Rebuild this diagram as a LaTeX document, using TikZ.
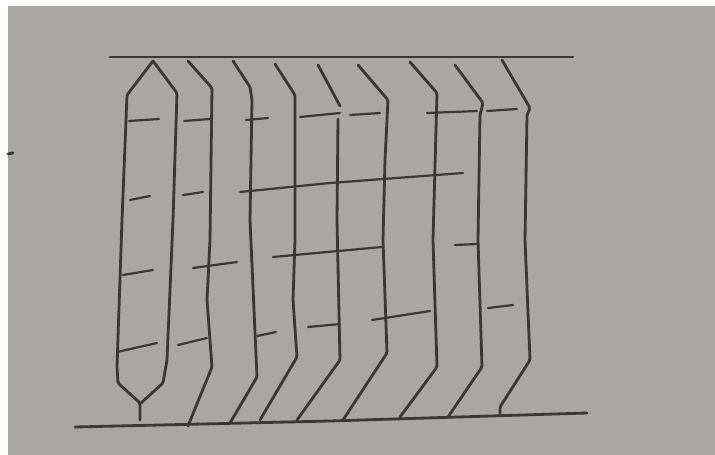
\documentclass[tikz,border=0pt]{standalone}
\begin{document}
\begin{tikzpicture}[x=1pt,y=-1pt,
  pencil/.style={draw=pencilc,line width=2.8pt,line cap=round,line join=round,rounded corners=1.5pt},
  tick/.style={draw=pencilc,line width=2.2pt,line cap=round}]
\definecolor{paper}{HTML}{A9A7A3}
\definecolor{pencilc}{HTML}{3A3836}
\useasboundingbox (0,0) rectangle (715,455);
\fill[white] (0,0) rectangle (715,455);
\fill[paper] (8,6) rectangle (715,455);
% stray mark at left
\draw[pencilc,line width=2.8pt,line cap=round] (8,154) -- (13,153);
% top and bottom rails
\draw[pencil] (110,57) -- (573,57);
\draw[pencil] (75,427) -- (330,421) -- (587,413);
% strand 1: pointed both ends
\draw[pencil] (153,61) -- (127,95) -- (122,220) -- (117,367) -- (118,383) -- (140,403) -- (140,420);
\draw[pencil] (153,61) -- (177,93) -- (173,220) -- (167,360) -- (163,383) -- (141,403);
% strand 2
\draw[pencil] (188,61) -- (212,88) -- (210,240) -- (207,300) -- (212,367) -- (188,426);
% strand 3
\draw[pencil] (233,61) -- (250,87) -- (252,100) -- (250,220) -- (257,377) -- (230,423);
% strand 4
\draw[pencil] (275,64) -- (295,95) -- (295,240) -- (293,300) -- (297,357) -- (260,420);
% strand 5 (with a gap near the top)
\draw[pencil] (318,65) -- (340,106);
\draw[pencil] (338,119) -- (337,220) -- (340,360) -- (297,420);
% strand 6
\draw[pencil] (358,65) -- (388,100) -- (385,160) -- (383,240) -- (387,353) -- (343,420);
% strand 7
\draw[pencil] (410,62) -- (437,93) -- (433,240) -- (437,367) -- (400,417);
% strand 8
\draw[pencil] (455,65) -- (483,103) -- (480,115) -- (478,240) -- (482,367) -- (448,417);
% strand 9
\draw[pencil] (502,60) -- (530,108) -- (527,115) -- (525,240) -- (530,360) -- (500,407) -- (500,415);
% row 1 ticks
\draw[tick] (129,121) -- (159,119);
\draw[tick] (184,121) -- (210,119);
\draw[tick] (246,120) -- (268,118);
\draw[tick] (300,117) -- (340,113);
\draw[tick] (350,115) -- (380,113);
\draw[tick] (427,113) -- (477,111);
\draw[tick] (487,111) -- (517,109);
% row 2
\draw[tick] (130,200) -- (150,196);
\draw[tick] (183,195) -- (203,192);
\draw[tick] (240,192) -- (330,183) -- (463,173);
% row 3
\draw[tick] (123,275) -- (153,270);
\draw[tick] (193,268) -- (237,262);
\draw[tick] (273,257) -- (382,247);
\draw[tick] (455,245) -- (477,244);
% row 4
\draw[tick] (117,352) -- (157,343);
\draw[tick] (178,345) -- (207,338);
\draw[tick] (257,336) -- (276,332);
\draw[tick] (308,327) -- (340,324);
\draw[tick] (372,320) -- (430,311);
\draw[tick] (488,308) -- (513,305);
\end{tikzpicture}
\end{document}
